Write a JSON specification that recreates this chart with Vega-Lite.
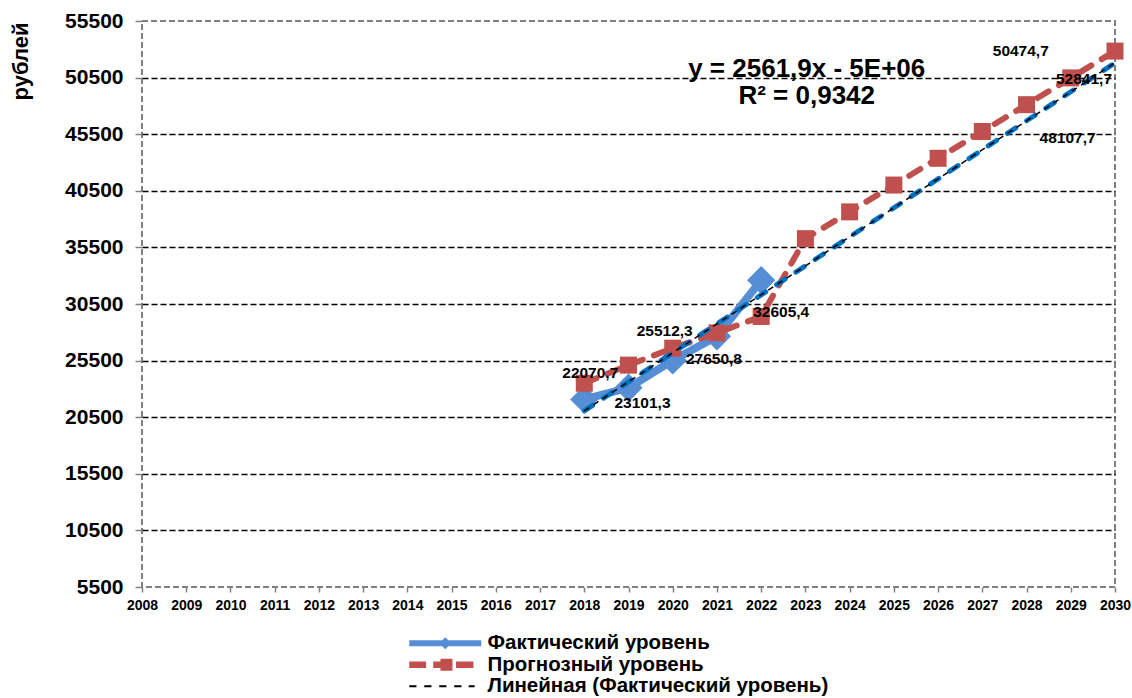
{
  "$schema": "https://vega.github.io/schema/vega-lite/v6.json",
  "width": 973,
  "height": 566,
  "autosize": {"type": "none"},
  "padding": {"left": 142, "top": 21, "right": 17, "bottom": 111},
  "background": "white",
  "datasets": {
    "fact": [
      {"year": 2018, "value": 22070.7},
      {"year": 2019, "value": 23101.3},
      {"year": 2020, "value": 25512.3},
      {"year": 2021, "value": 27650.8},
      {"year": 2022, "value": 32605.4}
    ],
    "forecast": [
      {"year": 2018, "value": 23500},
      {"year": 2019, "value": 25100},
      {"year": 2020, "value": 26600},
      {"year": 2021, "value": 27950},
      {"year": 2022, "value": 29400},
      {"year": 2023, "value": 36272.7},
      {"year": 2024, "value": 38639.7},
      {"year": 2025, "value": 41006.7},
      {"year": 2026, "value": 43373.7},
      {"year": 2027, "value": 45740.7},
      {"year": 2028, "value": 48107.7},
      {"year": 2029, "value": 50474.7},
      {"year": 2030, "value": 52841.7}
    ],
    "note": [
      {"label": "y = 2561,9x - 5E+06\nR² = 0,9342"}
    ]
  },
  "layer": [
    {
      "encoding": {
        "x": {
          "field": "year", "type": "quantitative",
          "scale": {"domain": [2008, 2030], "nice": false, "zero": false},
          "axis": {
            "title": null, "values": [2008,2009,2010,2011,2012,2013,2014,2015,2016,2017,2018,2019,2020,2021,2022,2023,2024,2025,2026,2027,2028,2029,2030],
            "format": "d", "labelFontSize": 14, "labelFontWeight": "bold", "labelColor": "black",
            "labelOverlap": false, "labelBound": false, "labelFlush": false,
            "tickSize": 5, "tickColor": "#808080", "tickWidth": 1.5, "labelPadding": 6, "domain": false, "grid": false
          }
        },
        "y": {
          "field": "value", "type": "quantitative",
          "scale": {"domain": [5500, 55500], "nice": false, "zero": false},
          "axis": {
            "title": "рублей", "titleFontSize": 22, "titleFontWeight": "bold", "titleColor": "black",
            "titleX": -122, "titleY": 40, "titleAngle": 270, "titleAlign": "center", "titleBaseline": "middle",
            "values": [5500,10500,15500,20500,25500,30500,35500,40500,45500,50500,55500],
            "format": "d", "labelFontSize": 21, "labelFontWeight": "bold", "labelColor": "black",
            "labelOverlap": false, "labelFlush": false,
            "tickSize": 7, "tickColor": "#808080", "tickWidth": 1.5, "labelPadding": 12, "domain": false,
            "grid": true, "gridDash": [6, 3], "gridWidth": 1.5,
            "gridColor": {"condition": {"test": "datum.value == 5500 || datum.value == 55500", "value": "transparent"}, "value": "black"}
          }
        }
      },
      "layer": [
        {
          "data": {"name": "fact"},
          "mark": {"type": "line", "strokeWidth": 8, "strokeJoin": "round"},
          "encoding": {
            "color": {
              "datum": "Фактический уровень", "type": "nominal",
              "scale": {"domain": ["Фактический уровень", "Прогнозный уровень", "Линейная (Фактический уровень)"], "range": ["#558ED5", "#C0504D", "#000000"]},
              "legend": {
                "title": null, "orient": "none", "legendX": 293, "legendY": 612, "direction": "vertical",
                "padding": 0, "symbolSize": 144, "labelFontSize": 20.5, "labelFontWeight": "bold", "labelColor": "black",
                "labelOffset": 32, "rowPadding": 0.5, "labelLimit": 0,
                "encode": {
                  "symbols": {
                    "update": {
                      "shape": {"signal": "datum.value === 'Фактический уровень' ? 'M-6,-0.5H6V0.5H-6Z M-1,0L0,-1L1,0L0,1Z' : datum.value === 'Прогнозный уровень' ? 'M-6,-0.55H-3.2V0.55H-6Z M-2,-0.55H-0.7V0.55H-2Z M-0.8,-1H1.2V1H-0.8Z M1.8,-0.55H4.7V0.55H1.8Z' : 'M-6,-0.17H-4.8V0.17H-6Z M-3.5,-0.17H-2.3V0.17H-3.5Z M-1,-0.17H0.2V0.17H-1Z M1.5,-0.17H2.7V0.17H1.5Z M3.9,-0.17H4.9V0.17H3.9Z'"},
                      "fill": {"signal": "datum.value === 'Фактический уровень' ? '#558ED5' : datum.value === 'Прогнозный уровень' ? '#C0504D' : '#000000'"},
                      "stroke": {"value": "transparent"},
                      "strokeWidth": {"value": 0},
                      "opacity": {"value": 1},
                      "fillOpacity": {"value": 1}
                    }
                  }
                }
              }
            }
          }
        },
        {
          "data": {"name": "fact"},
          "mark": {"type": "point", "shape": "diamond", "filled": true, "size": 800, "color": "#558ED5", "opacity": 1}
        },
        {
          "data": {"name": "forecast"},
          "mark": {"type": "line", "strokeWidth": 6, "strokeDash": [13, 12], "strokeCap": "round"},
          "encoding": {"color": {"datum": "Прогнозный уровень", "type": "nominal"}}
        },
        {
          "data": {"name": "forecast"},
          "mark": {"type": "point", "shape": "square", "filled": true, "size": 289, "color": "#C0504D", "opacity": 1}
        },
        {
          "data": {"name": "fact"},
          "transform": [{"regression": "value", "on": "year", "extent": [2018, 2030]}],
          "mark": {"type": "line", "strokeWidth": 5, "strokeDash": [10, 13], "strokeCap": "round", "color": "#0070C0"}
        },
        {
          "data": {"name": "fact"},
          "transform": [{"regression": "value", "on": "year", "extent": [2018, 2030]}],
          "mark": {"type": "line", "strokeWidth": 1.5, "strokeDash": [6, 5]},
          "encoding": {"color": {"datum": "Линейная (Фактический уровень)", "type": "nominal"}}
        },
        {
          "data": {"name": "fact"}, "transform": [{"filter": "datum.year == 2018"}],
          "mark": {"type": "text", "dx": 6, "dy": -26},
          "encoding": {"text": {"field": "value", "type": "quantitative", "format": ".1f"}}
        },
        {
          "data": {"name": "fact"}, "transform": [{"filter": "datum.year == 2019"}],
          "mark": {"type": "text", "dx": 14, "dy": 15},
          "encoding": {"text": {"field": "value", "type": "quantitative", "format": ".1f"}}
        },
        {
          "data": {"name": "fact"}, "transform": [{"filter": "datum.year == 2020"}],
          "mark": {"type": "text", "dx": -8, "dy": -29},
          "encoding": {"text": {"field": "value", "type": "quantitative", "format": ".1f"}}
        },
        {
          "data": {"name": "fact"}, "transform": [{"filter": "datum.year == 2021"}],
          "mark": {"type": "text", "dx": -3, "dy": 23},
          "encoding": {"text": {"field": "value", "type": "quantitative", "format": ".1f"}}
        },
        {
          "data": {"name": "fact"}, "transform": [{"filter": "datum.year == 2022"}],
          "mark": {"type": "text", "dx": 20, "dy": 32},
          "encoding": {"text": {"field": "value", "type": "quantitative", "format": ".1f"}}
        },
        {
          "data": {"name": "forecast"}, "transform": [{"filter": "datum.year == 2028"}],
          "mark": {"type": "text", "dx": 41, "dy": 33},
          "encoding": {"text": {"field": "value", "type": "quantitative", "format": ".1f"}}
        },
        {
          "data": {"name": "forecast"}, "transform": [{"filter": "datum.year == 2029"}],
          "mark": {"type": "text", "dx": -50, "dy": -27},
          "encoding": {"text": {"field": "value", "type": "quantitative", "format": ".1f"}}
        },
        {
          "data": {"name": "forecast"}, "transform": [{"filter": "datum.year == 2030"}],
          "mark": {"type": "text", "dx": -31, "dy": 28},
          "encoding": {"text": {"field": "value", "type": "quantitative", "format": ".1f"}}
        }
      ]
    },
    {
      "data": {"name": "note"},
      "mark": {"type": "text", "fontSize": 26, "lineHeight": 27, "baseline": "middle", "align": "center", "lineBreak": "\n"},
      "encoding": {
        "x": {"datum": 2023.03, "type": "quantitative"},
        "y": {"datum": 51287, "type": "quantitative"},
        "text": {"field": "label", "type": "nominal"}
      }
    }
  ],
  "config": {
    "font": "Liberation Sans",
    "locale": {"number": {"decimal": ",", "thousands": "", "grouping": [3], "currency": ["", ""]}},
    "view": {"stroke": "#808080", "strokeDash": [6, 3], "strokeWidth": 2},
    "text": {"font": "Liberation Sans", "fontSize": 15.5, "fontWeight": "bold", "color": "black", "align": "center", "baseline": "middle"},
    "axis": {"labelFont": "Liberation Sans", "titleFont": "Liberation Sans"},
    "legend": {"labelFont": "Liberation Sans"}
  }
}
